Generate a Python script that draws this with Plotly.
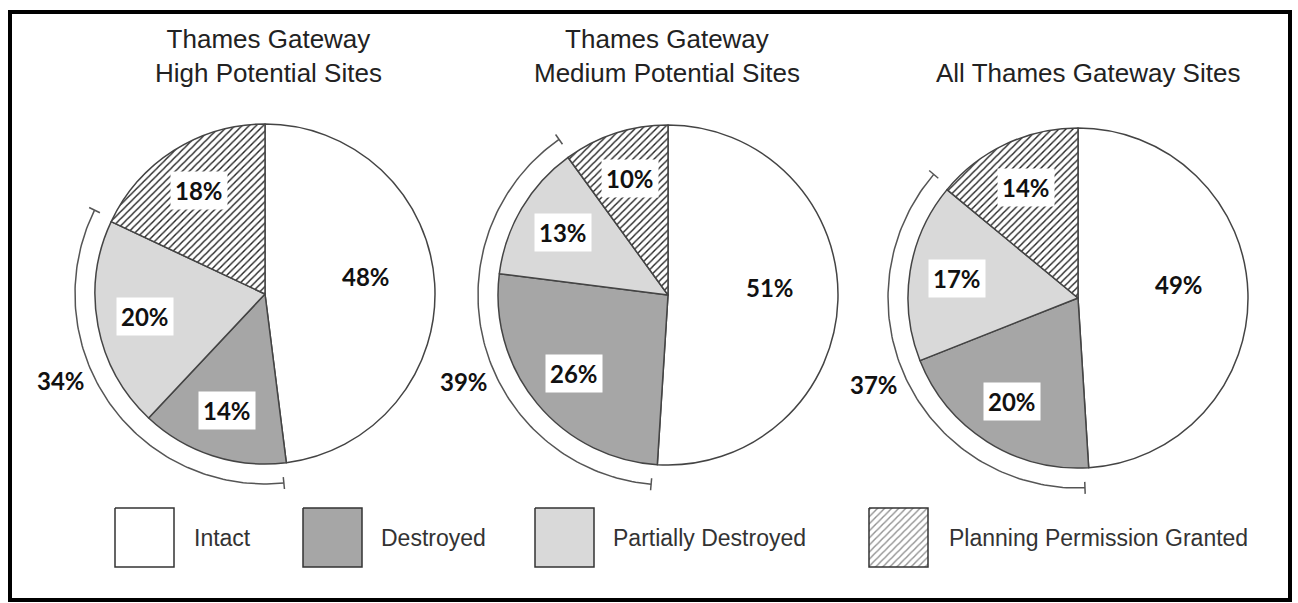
import math
import numpy as np
import plotly.graph_objects as go

W, H = 1298, 603

# ---------------- data ----------------
categories = ["Intact", "Destroyed", "Partially Destroyed", "Planning Permission Granted"]
titles = ["Thames Gateway<br>High Potential Sites",
          "Thames Gateway<br>Medium Potential Sites",
          "All Thames Gateway Sites"]
high_values = [48, 14, 20, 18]
medium_values = [51, 26, 13, 10]
all_values = [49, 20, 17, 14]
series = [high_values, medium_values, all_values]

# ---------------- style / layout ----------------
slice_colors = ["#ffffff", "#a6a6a6", "#d9d9d9", "#ffffff"]
slice_patterns = ["", "", "", "/"]
centers = [(265, 294), (668, 295), (1078, 298)]
R = 170
title_pos = [(268, 56), (667, 56), (1088, 73)]
legend_box_x = [115, 303, 535, 869]
legend_text_x = [192, 379, 611, 947]
legend_y = (508, 567)

LABEL_FONT = "Lato"
TEXT_FONT = "Liberation Sans"
HATCH = dict(fgcolor="#222222", size=5, solidity=0.28)


def polar(cx, cy, r, deg):
    t = math.radians(deg)
    return cx + r * math.sin(t), cy - r * math.cos(t)


fig = go.Figure()
annotations = []

for vals, (cx, cy), title, (tx, ty) in zip(series, centers, titles, title_pos):
    fig.add_trace(go.Pie(
        values=vals, labels=categories, sort=False, direction="clockwise", rotation=0,
        domain=dict(x=[(cx - R) / W, (cx + R) / W], y=[1 - (cy + R) / H, 1 - (cy - R) / H]),
        marker=dict(colors=slice_colors, line=dict(color="#444444", width=1.5),
                    pattern=dict(shape=slice_patterns, **HATCH)),
        textinfo="none", showlegend=False, hoverinfo="label+percent",
    ))
    # slice labels
    cum = 0
    for v in vals:
        mid = (cum + v / 2) / 100 * 360
        cum += v
        rf = 0.6 if v >= 40 else 0.72
        ang = mid - 6 if v >= 40 else mid
        x, y = polar(cx, cy, R * rf, ang)
        annotations.append(dict(x=x, y=y, xref="x", yref="y", text=f"<b>{v}%</b>", showarrow=False,
                                font=dict(family=LABEL_FONT, size=24, color="#111111"),
                                bgcolor="#ffffff", borderpad=4))
    # bracket arc over destroyed + partially destroyed
    a0 = vals[0] / 100 * 360 + 1.5
    a1 = (vals[0] + vals[1] + vals[2]) / 100 * 360 + 1
    angs = np.linspace(a0, a1, 120)
    ax_ = [polar(cx, cy, 190, a)[0] for a in angs]
    ay_ = [polar(cx, cy, 190, a)[1] for a in angs]
    fig.add_trace(go.Scatter(x=ax_, y=ay_, mode="lines", line=dict(color="#555555", width=1.5),
                             hoverinfo="skip", showlegend=False))
    for a in (a0, a1):
        p0 = polar(cx, cy, 184, a)
        p1 = polar(cx, cy, 196, a)
        fig.add_trace(go.Scatter(x=[p0[0], p1[0]], y=[p0[1], p1[1]], mode="lines",
                                 line=dict(color="#555555", width=1.5), hoverinfo="skip", showlegend=False))
    lx, ly = polar(cx, cy, 222, 247)
    annotations.append(dict(x=lx, y=ly, xref="x", yref="y", text=f"<b>{vals[1] + vals[2]}%</b>",
                            showarrow=False, font=dict(family=LABEL_FONT, size=24, color="#111111")))
    # title
    annotations.append(dict(x=tx, y=ty, xref="x", yref="y", text=title, showarrow=False,
                            font=dict(family=TEXT_FONT, size=26, color="#222222")))

# legend
for cat, col, pat, bx, txx in zip(categories, slice_colors, slice_patterns, legend_box_x, legend_text_x):
    y0, y1 = legend_y
    kw = {}
    if pat:
        kw["fillpattern"] = dict(shape=pat, bgcolor="#ffffff", **HATCH)
    fig.add_trace(go.Scatter(x=[bx, bx + 59, bx + 59, bx, bx], y=[y0, y0, y1, y1, y0], mode="lines",
                             fill="toself", fillcolor=col, line=dict(color="#333333", width=1.5),
                             hoverinfo="skip", showlegend=False, **kw))
    annotations.append(dict(x=txx, y=(y0 + y1) / 2, xref="x", yref="y", text=cat, showarrow=False,
                            xanchor="left", font=dict(family=TEXT_FONT, size=23, color="#333333")))

fig.update_layout(
    width=W, height=H, margin=dict(l=0, r=0, t=0, b=0),
    paper_bgcolor="white", plot_bgcolor="white",
    xaxis=dict(range=[0, W], visible=False, fixedrange=True, domain=[0, 1]),
    yaxis=dict(range=[H, 0], visible=False, fixedrange=True, domain=[0, 1]),
    annotations=annotations,
    shapes=[dict(type="rect", xref="x", yref="y", x0=10, y0=12, x1=1290, y1=600,
                 line=dict(color="#000000", width=4), layer="above")],
)

fig.write_html("out.html")
